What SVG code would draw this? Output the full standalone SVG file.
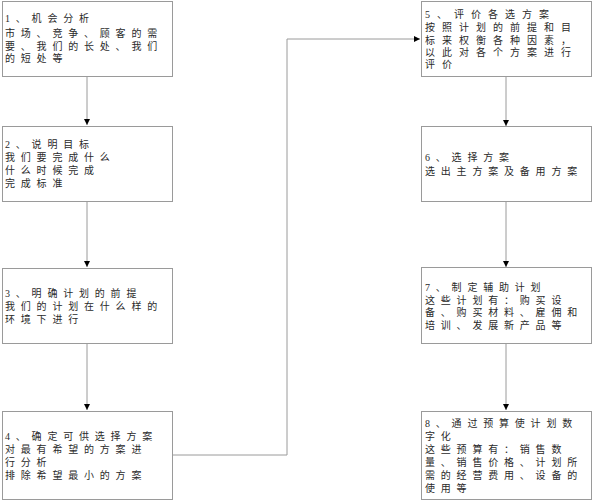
<svg xmlns="http://www.w3.org/2000/svg" width="600" height="502" viewBox="0 0 600 502">
<defs>
<style>
.box{fill:#fff;stroke:#9a9a9a;stroke-width:1}
.t{font-family:"Liberation Serif","Noto Sans CJK SC",serif;font-size:10px;fill:#2a2a2a;letter-spacing:5.8px}
.t5{letter-spacing:7px}
.c{fill:none;stroke:#9a9a9a;stroke-width:1}
</style>
<marker id="ah" viewBox="0 0 10 10" refX="10" refY="5" markerWidth="6" markerHeight="6" markerUnits="userSpaceOnUse" orient="auto">
<path d="M0,0 L10,5 L0,10 z" fill="#000"/>
</marker>
</defs>
<rect width="600" height="502" fill="#fff"/>
<g id="connectors">
<line class="c" x1="87" y1="76" x2="87" y2="125" marker-end="url(#ah)"/>
<line class="c" x1="87" y1="202" x2="87" y2="267" marker-end="url(#ah)"/>
<line class="c" x1="87" y1="343" x2="87" y2="410" marker-end="url(#ah)"/>
<polyline class="c" points="172,455 287,455 287,39 420,39" marker-end="url(#ah)"/>
<line class="c" x1="506" y1="76" x2="506" y2="126" marker-end="url(#ah)"/>
<line class="c" x1="506" y1="202" x2="506" y2="267" marker-end="url(#ah)"/>
<line class="c" x1="506" y1="343" x2="506" y2="410" marker-end="url(#ah)"/>
</g>
<g id="node1">
<rect class="box" x="2.5" y="1.5" width="170" height="75"/>
<text class="t" x="5" y="22">1、机会分析</text>
<text class="t" x="5" y="37">市场、竞争、顾客的需</text>
<text class="t" x="5" y="49.5">要、我们的长处、我们</text>
<text class="t" x="5" y="62">的短处等</text>
</g>
<g id="node2">
<rect class="box" x="2.5" y="126.5" width="170" height="75"/>
<text class="t" x="5" y="148">2、说明目标</text>
<text class="t" x="5" y="161">我们要完成什么</text>
<text class="t" x="5" y="174">什么时候完成</text>
<text class="t" x="5" y="187">完成标准</text>
</g>
<g id="node3">
<rect class="box" x="2.5" y="268.5" width="170" height="75"/>
<text class="t" x="5" y="297">3、明确计划的前提</text>
<text class="t" x="5" y="310">我们的计划在什么样的</text>
<text class="t" x="5" y="323">环境下进行</text>
</g>
<g id="node4">
<rect class="box" x="2.5" y="411.5" width="170" height="88"/>
<text class="t" x="5" y="440">4、确定可供选择方案</text>
<text class="t" x="5" y="453">对最有希望的方案进</text>
<text class="t" x="5" y="466">行分析</text>
<text class="t" x="5" y="479">排除希望最小的方案</text>
</g>
<g id="node5">
<rect class="box" x="421.5" y="1.5" width="170" height="75"/>
<text class="t t5" x="425" y="18">5、评价各选方案</text>
<text class="t t5" x="425" y="31">按照计划的前提和目</text>
<text class="t t5" x="425" y="43.5">标来权衡各种因素，</text>
<text class="t t5" x="425" y="56">以此对各个方案进行</text>
<text class="t t5" x="425" y="68">评价</text>
</g>
<g id="node6">
<rect class="box" x="421.5" y="126.5" width="170" height="75"/>
<text class="t" x="425" y="161">6、选择方案</text>
<text class="t" x="425" y="175">选出主方案及备用方案</text>
</g>
<g id="node7">
<rect class="box" x="421.5" y="267.5" width="170" height="76"/>
<text class="t" x="425" y="291">7、制定辅助计划</text>
<text class="t" x="425" y="303.5">这些计划有：购买设</text>
<text class="t" x="425" y="316">备、购买材料、雇佣和</text>
<text class="t" x="425" y="329">培训、发展新产品等</text>
</g>
<g id="node8">
<rect class="box" x="421.5" y="411.5" width="170" height="88"/>
<text class="t" x="425" y="427">8、通过预算使计划数</text>
<text class="t" x="425" y="440">字化</text>
<text class="t" x="425" y="453">这些预算有：销售数</text>
<text class="t" x="425" y="466">量、销售价格、计划所</text>
<text class="t" x="425" y="479">需的经营费用、设备的</text>
<text class="t" x="425" y="492">使用等</text>
</g>
</svg>
